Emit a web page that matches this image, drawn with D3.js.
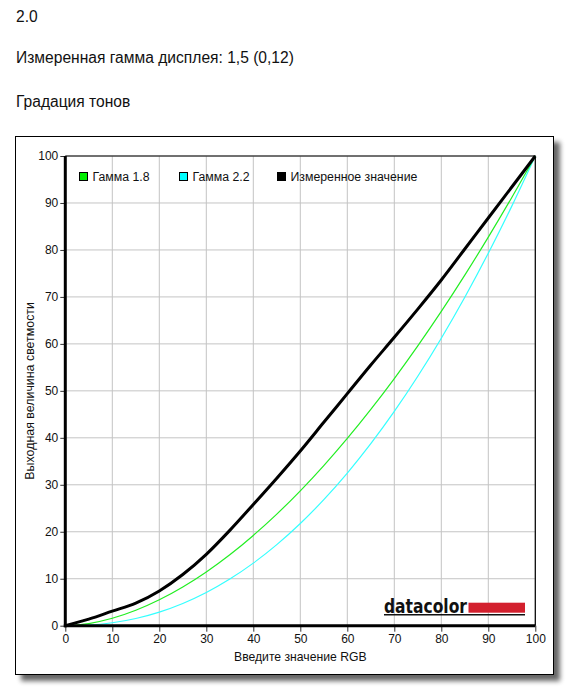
<!DOCTYPE html>
<html>
<head>
<meta charset="utf-8">
<script src="https://cdn.jsdelivr.net/npm/d3@7"></script>
<style>
  body { margin: 0; background: #fff; }
  svg text { font-family: "Liberation Sans", Arial, sans-serif; }
</style>
</head>
<body>
<svg id="chart" width="578" height="687"></svg>
<script>
var headerLines = ["2.0", "Измеренная гамма дисплея: 1,5 (0,12)", "Градация тонов"];

var rgbInput = [0, 5, 10, 15, 20, 25, 30, 35, 40, 45, 50, 55, 60, 65, 70, 75, 80, 85, 90, 95, 100];
var gamma18 = [0, 0.46, 1.58, 3.29, 5.52, 8.25, 11.45, 15.11, 19.22, 23.76, 28.72, 34.09, 39.87, 46.05, 52.62, 59.58, 66.92, 74.64, 82.73, 91.18, 100];
var gamma22 = [0, 0.14, 0.63, 1.54, 2.90, 4.74, 7.07, 9.93, 13.32, 17.26, 21.76, 26.84, 32.50, 38.76, 45.63, 53.11, 61.21, 69.94, 79.31, 89.33, 100];
var measured = [0, 1.4, 3.1, 4.8, 7.4, 10.9, 15.2, 20.3, 25.8, 31.4, 37.2, 43.3, 49.4, 55.5, 61.4, 67.4, 73.6, 80.2, 86.8, 93.4, 100];

var ticks = [0, 10, 20, 30, 40, 50, 60, 70, 80, 90, 100];

var seriesNames = ["Гамма 1.8", "Гамма 2.2", "Измеренное значение"];
var xTitle = "Введите значение RGB";
var yTitle = "Выходная величина светмости";

var svg = d3.select("#chart");

// header texts
var headerY = [22, 63, 107];
svg.append("g").selectAll("text").data(headerLines).enter().append("text")
  .attr("x", 16).attr("y", function(d, i) { return headerY[i]; })
  .style("font-size", "15.6px").attr("fill", "#111").text(function(d) { return d; });

// framed panel with shadow
var defs = svg.append("defs");
var f = defs.append("filter").attr("id", "shadow").attr("x", "-5%").attr("y", "-5%").attr("width", "115%").attr("height", "115%");
f.append("feGaussianBlur").attr("in", "SourceAlpha").attr("stdDeviation", 2.5).attr("result", "b");
f.append("feOffset").attr("in", "b").attr("dx", 6).attr("dy", 6).attr("result", "o");
f.append("feComponentTransfer").attr("in", "o").attr("result", "s")
  .append("feFuncA").attr("type", "linear").attr("slope", 0.6);
var fm = f.append("feMerge");
fm.append("feMergeNode").attr("in", "s");
fm.append("feMergeNode").attr("in", "SourceGraphic");

svg.append("rect")
  .attr("x", 15.5).attr("y", 136.5).attr("width", 538).attr("height", 538)
  .attr("fill", "#fff").attr("stroke", "#000").attr("stroke-width", 1)
  .attr("filter", "url(#shadow)");

var margin = {left: 65.3, top: 156, right: 535.3, bottom: 625.7};

var x = d3.scaleLinear().domain([0, 100]).range([margin.left, margin.right]);
var y = d3.scaleLinear().domain([0, 100]).range([margin.bottom, margin.top]);

var g = svg.append("g");

// grid
g.append("g").selectAll("line").data(ticks.slice(1)).enter().append("line")
  .attr("x1", function(d) { return x(d); }).attr("x2", function(d) { return x(d); })
  .attr("y1", y(0)).attr("y2", y(100))
  .attr("stroke", "#c4c4c4").attr("stroke-width", 1);
g.append("g").selectAll("line").data(ticks.slice(1)).enter().append("line")
  .attr("y1", function(d) { return y(d); }).attr("y2", function(d) { return y(d); })
  .attr("x1", x(0)).attr("x2", x(100))
  .attr("stroke", "#c4c4c4").attr("stroke-width", 1);

// top / right border
g.append("path")
  .attr("d", "M" + x(0) + "," + y(100) + "H" + x(100) + "V" + y(0))
  .attr("fill", "none").attr("stroke", "#000").attr("stroke-width", 1.2);

// datacolor logo
var logo = g.append("g");
logo.append("text").attr("x", 384).attr("y", 612.5)
  .attr("textLength", 83).attr("lengthAdjust", "spacingAndGlyphs")
  .style("font-family", "'DejaVu Sans', sans-serif").style("font-weight", "bold").style("font-size", "19px")
  .attr("fill", "#111").text("datacolor");
logo.append("rect").attr("x", 468.5).attr("y", 602.7).attr("width", 56.5).attr("height", 10).attr("fill", "#d3202e");
logo.append("rect").attr("x", 384).attr("y", 614).attr("width", 141).attr("height", 1.5).attr("fill", "#111");

// curves
var line = d3.line()
  .x(function(d) { return x(d[0]); })
  .y(function(d) { return y(d[1]); })
  .curve(d3.curveMonotoneX);

function pairs(vals) { return rgbInput.map(function(v, i) { return [v, vals[i]]; }); }

g.append("path").datum(pairs(gamma22)).attr("d", line)
  .attr("fill", "none").attr("stroke", "#33ffff").attr("stroke-width", 1.2);
g.append("path").datum(pairs(gamma18)).attr("d", line)
  .attr("fill", "none").attr("stroke", "#22ee22").attr("stroke-width", 1.2);
g.append("path").datum(pairs(measured)).attr("d", line)
  .attr("fill", "none").attr("stroke", "#000").attr("stroke-width", 3);

// axes
var yAxis = g.append("g")
  .attr("transform", "translate(" + x(0) + ",0)")
  .call(d3.axisLeft(y).tickValues(ticks).tickSize(5).tickPadding(2));
var xAxis = g.append("g")
  .attr("transform", "translate(0," + y(0) + ")")
  .call(d3.axisBottom(x).tickValues(ticks).tickSize(6).tickPadding(3));
[yAxis, xAxis].forEach(function(a) {
  a.select(".domain").remove();
  a.selectAll(".tick line").attr("stroke", "#333");
  a.selectAll(".tick text").style("font-family", "'Liberation Sans', Arial, sans-serif")
    .style("font-size", "12px").attr("fill", "#111");
});

g.append("line").attr("x1", x(0)).attr("x2", x(0)).attr("y1", y(100)).attr("y2", y(0) + 1.5)
  .attr("stroke", "#000").attr("stroke-width", 3);
g.append("line").attr("x1", x(0) - 1.5).attr("x2", x(100)).attr("y1", y(0)).attr("y2", y(0))
  .attr("stroke", "#000").attr("stroke-width", 3);

// axis titles
g.append("text").attr("x", (x(0) + x(100)) / 2).attr("y", 661)
  .attr("text-anchor", "middle").style("font-size", "12.2px").attr("fill", "#111").text(xTitle);
g.append("text").attr("transform", "translate(34," + ((y(0) + y(100)) / 2) + ") rotate(-90)")
  .attr("text-anchor", "middle").style("font-size", "12.4px").attr("fill", "#111").text(yTitle);

// legend
var legendColors = ["#00ee00", "#00ffff", "#000"];
var legendX = [79.5, 179.5, 277.5];
var legend = g.append("g").selectAll("g").data(seriesNames).enter().append("g")
  .attr("transform", function(d, i) { return "translate(" + legendX[i] + ",172.5)"; });
legend.append("rect").attr("width", 8).attr("height", 8)
  .attr("fill", function(d, i) { return legendColors[i]; })
  .attr("stroke", "#000").attr("stroke-width", 1);
legend.append("text").attr("x", 13).attr("y", 8.5)
  .style("font-size", "12.3px").attr("fill", "#111").text(function(d) { return d; });
</script>
</body>
</html>
